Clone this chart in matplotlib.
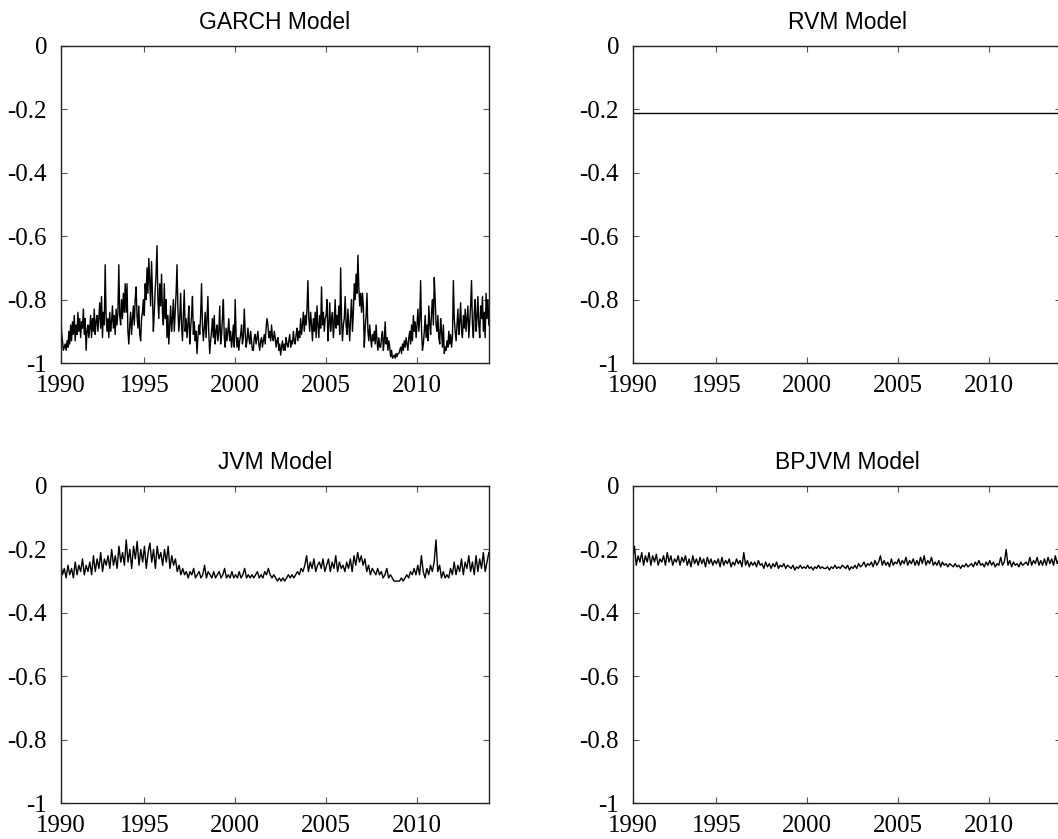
import numpy as np
import matplotlib
matplotlib.use("Agg")
import matplotlib.pyplot as plt

# ===== data =====
START, END = 1990.4, 2013.95

# GARCH, ~20 samples per year
garch = [
    -0.80, -0.90, -0.93, -0.96, -0.95, -0.94, -0.96, -0.93, -0.95, -0.90, -0.94, -0.88,
    -0.93, -0.87, -0.91, -0.85, -0.93, -0.88, -0.91, -0.84, -0.90, -0.86, -0.92, -0.87, -0.89, -0.83, -0.91, -0.86, -0.96, -0.90, -0.88, -0.92,
    -0.89, -0.85, -0.92, -0.86, -0.90, -0.83, -0.91, -0.87, -0.85, -0.90, -0.86, -0.81, -0.89, -0.79, -0.92, -0.84, -0.88, -0.69, -0.85, -0.90,
    -0.86, -0.92, -0.84, -0.90, -0.87, -0.82, -0.89, -0.85, -0.91, -0.83, -0.88, -0.84, -0.69, -0.85, -0.88, -0.80, -0.86, -0.78, -0.84, -0.75,
    -0.84, -0.75, -0.90, -0.94, -0.88, -0.84, -0.91, -0.86, -0.82, -0.88, -0.80, -0.76, -0.85, -0.89, -0.82, -0.91, -0.93, -0.86, -0.84, -0.80,
    -0.85, -0.75, -0.80, -0.70, -0.78, -0.67, -0.74, -0.82, -0.68, -0.78, -0.90, -0.84, -0.77, -0.72, -0.63, -0.80, -0.86, -0.75, -0.82, -0.72,
    -0.84, -0.88, -0.75, -0.86, -0.80, -0.92, -0.85, -0.94, -0.88, -0.82, -0.90, -0.86, -0.80, -0.90, -0.84, -0.78, -0.69, -0.83, -0.90, -0.86,
    -0.78, -0.88, -0.93, -0.85, -0.77, -0.90, -0.86, -0.92, -0.88, -0.82, -0.94, -0.89, -0.85, -0.79, -0.91, -0.87, -0.93, -0.90, -0.97, -0.92,
    -0.88, -0.91, -0.85, -0.75, -0.88, -0.93, -0.89, -0.84, -0.92, -0.86, -0.79, -0.91, -0.97, -0.93, -0.90, -0.86, -0.92, -0.85, -0.94, -0.90,
    -0.88, -0.93, -0.90, -0.82, -0.94, -0.91, -0.86, -0.80, -0.92, -0.95, -0.89, -0.93, -0.90, -0.86, -0.93, -0.90, -0.95, -0.92, -0.88, -0.95,
    -0.80, -0.91, -0.95, -0.92, -0.96, -0.93, -0.91, -0.88, -0.94, -0.92, -0.83, -0.90, -0.95, -0.93, -0.89, -0.92, -0.94, -0.90, -0.93, -0.96,
    -0.96, -0.92, -0.91, -0.94, -0.92, -0.90, -0.94, -0.96, -0.93, -0.92, -0.95, -0.93, -0.91, -0.94, -0.89, -0.86, -0.88, -0.92, -0.90, -0.93,
    -0.88, -0.92, -0.93, -0.90, -0.92, -0.95, -0.93, -0.92, -0.96, -0.94, -0.975, -0.95, -0.93, -0.96, -0.94, -0.96, -0.92, -0.94, -0.95, -0.93,
    -0.91, -0.95, -0.93, -0.94, -0.90, -0.93, -0.94, -0.91, -0.89, -0.93, -0.90, -0.92, -0.86, -0.91, -0.88, -0.84, -0.90, -0.85, -0.88, -0.83,
    -0.74, -0.86, -0.90, -0.84, -0.88, -0.93, -0.86, -0.90, -0.84, -0.92, -0.82, -0.88, -0.92, -0.85, -0.89, -0.76, -0.88, -0.84, -0.90, -0.86,
    -0.85, -0.80, -0.93, -0.88, -0.81, -0.90, -0.86, -0.84, -0.92, -0.87, -0.80, -0.89, -0.85, -0.88, -0.82, -0.91, -0.70, -0.86, -0.93, -0.88,
    -0.86, -0.79, -0.88, -0.91, -0.83, -0.88, -0.93, -0.85, -0.80, -0.90, -0.84, -0.75, -0.80, -0.72, -0.78, -0.66, -0.76, -0.82, -0.78, -0.84,
    -0.78, -0.82, -0.95, -0.89, -0.85, -0.78, -0.90, -0.93, -0.88, -0.92, -0.95, -0.91, -0.93, -0.90, -0.94, -0.88, -0.93, -0.96, -0.92, -0.95,
    -0.95, -0.92, -0.90, -0.96, -0.93, -0.87, -0.94, -0.92, -0.96, -0.93, -0.95, -0.98, -0.96, -0.985, -0.98, -0.975, -0.985, -0.97, -0.98, -0.97,
    -0.97, -0.96, -0.95, -0.97, -0.94, -0.96, -0.93, -0.95, -0.92, -0.94, -0.96, -0.92, -0.90, -0.94, -0.88, -0.93, -0.85, -0.90, -0.87, -0.92,
    -0.88, -0.83, -0.90, -0.86, -0.74, -0.90, -0.96, -0.94, -0.90, -0.85, -0.92, -0.88, -0.93, -0.82, -0.88, -0.91, -0.84, -0.80, -0.88, -0.73,
    -0.80, -0.88, -0.90, -0.85, -0.92, -0.94, -0.86, -0.90, -0.95, -0.88, -0.97, -0.95, -0.96, -0.93, -0.95, -0.90, -0.94, -0.91, -0.95, -0.92,
    -0.74, -0.86, -0.90, -0.93, -0.88, -0.83, -0.91, -0.87, -0.81, -0.90, -0.92, -0.85, -0.89, -0.83, -0.90, -0.86, -0.82, -0.92, -0.87, -0.82,
    -0.74, -0.88, -0.92, -0.84, -0.80, -0.90, -0.86, -0.79, -0.88, -0.92, -0.82, -0.86, -0.79, -0.90, -0.84, -0.92, -0.78, -0.86, -0.80, -0.88,
]

# RVM is flat
rvm = [-0.212, -0.212]

# JVM, ~10 samples per year
jvm = [
    -0.24, -0.28, -0.26, -0.29, -0.25, -0.28,
    -0.26, -0.29, -0.24, -0.28, -0.25, -0.27, -0.23, -0.28, -0.25, -0.27,
    -0.24, -0.28, -0.22, -0.27, -0.23, -0.26, -0.21, -0.27, -0.23, -0.25,
    -0.22, -0.26, -0.20, -0.25, -0.22, -0.26, -0.19, -0.24, -0.21, -0.25,
    -0.17, -0.24, -0.20, -0.26, -0.19, -0.23, -0.175, -0.25, -0.20, -0.24,
    -0.19, -0.26, -0.21, -0.18, -0.24, -0.20, -0.26, -0.19, -0.23, -0.21,
    -0.25, -0.20, -0.24, -0.19, -0.26, -0.22, -0.25, -0.23, -0.27, -0.25,
    -0.28, -0.26, -0.28, -0.27, -0.29, -0.27, -0.28, -0.26, -0.29, -0.28,
    -0.27, -0.29, -0.28, -0.25, -0.29, -0.27, -0.28, -0.29, -0.27, -0.29,
    -0.28, -0.27, -0.29, -0.28, -0.26, -0.29, -0.28, -0.29, -0.27, -0.29,
    -0.28, -0.29, -0.27, -0.29, -0.28, -0.26, -0.29, -0.28, -0.29, -0.28,
    -0.29, -0.28, -0.27, -0.29, -0.28, -0.29, -0.27, -0.28, -0.26, -0.28,
    -0.29, -0.28, -0.29, -0.30, -0.29, -0.30, -0.29, -0.30, -0.29, -0.28,
    -0.29, -0.28, -0.29, -0.28, -0.27, -0.28, -0.26, -0.27, -0.25, -0.22,
    -0.27, -0.24, -0.26, -0.23, -0.27, -0.25, -0.24, -0.26, -0.23, -0.27,
    -0.25, -0.23, -0.27, -0.24, -0.26, -0.22, -0.27, -0.24, -0.26, -0.25,
    -0.27, -0.24, -0.26, -0.23, -0.27, -0.22, -0.25, -0.21, -0.24, -0.22,
    -0.25, -0.23, -0.27, -0.25, -0.28, -0.26, -0.27, -0.28, -0.26, -0.28,
    -0.27, -0.29, -0.28, -0.26, -0.29, -0.28, -0.29, -0.30, -0.30, -0.30,
    -0.30, -0.29, -0.30, -0.29, -0.28, -0.29, -0.27, -0.28, -0.26, -0.28,
    -0.25, -0.28, -0.22, -0.27, -0.29, -0.26, -0.28, -0.25, -0.27, -0.24,
    -0.17, -0.27, -0.25, -0.29, -0.27, -0.29, -0.28, -0.29, -0.26, -0.28,
    -0.24, -0.28, -0.25, -0.27, -0.23, -0.28, -0.24, -0.26, -0.22, -0.27,
    -0.24, -0.28, -0.22, -0.27, -0.23, -0.26, -0.21, -0.27, -0.24, -0.21,
]

# BPJVM, ~10 samples per year
bpjvm = [
    -0.23, -0.19, -0.25, -0.22, -0.24, -0.21,
    -0.25, -0.22, -0.24, -0.21, -0.25, -0.22, -0.24, -0.215, -0.25, -0.23,
    -0.24, -0.22, -0.25, -0.21, -0.24, -0.22, -0.25, -0.23, -0.24, -0.22,
    -0.25, -0.225, -0.24, -0.22, -0.25, -0.23, -0.255, -0.22, -0.245, -0.23,
    -0.25, -0.225, -0.245, -0.23, -0.255, -0.225, -0.245, -0.23, -0.25, -0.235,
    -0.245, -0.23, -0.255, -0.225, -0.25, -0.235, -0.245, -0.23, -0.255, -0.24,
    -0.25, -0.23, -0.245, -0.235, -0.255, -0.21, -0.25, -0.235, -0.255, -0.24,
    -0.25, -0.24, -0.255, -0.235, -0.25, -0.245, -0.26, -0.24, -0.255, -0.245,
    -0.26, -0.245, -0.255, -0.24, -0.26, -0.25, -0.255, -0.245, -0.26, -0.25,
    -0.255, -0.26, -0.25, -0.265, -0.255, -0.26, -0.25, -0.26, -0.255, -0.26,
    -0.25, -0.26, -0.255, -0.265, -0.255, -0.26, -0.25, -0.26, -0.255, -0.26,
    -0.26, -0.255, -0.265, -0.255, -0.26, -0.25, -0.26, -0.255, -0.26, -0.25,
    -0.255, -0.26, -0.25, -0.265, -0.255, -0.26, -0.25, -0.26, -0.245, -0.255,
    -0.25, -0.24, -0.255, -0.245, -0.25, -0.24, -0.255, -0.235, -0.25, -0.24,
    -0.22, -0.25, -0.235, -0.25, -0.24, -0.255, -0.23, -0.25, -0.24, -0.245,
    -0.23, -0.25, -0.235, -0.245, -0.225, -0.25, -0.235, -0.245, -0.23, -0.25,
    -0.235, -0.25, -0.225, -0.245, -0.22, -0.25, -0.235, -0.245, -0.225, -0.25,
    -0.24, -0.25, -0.235, -0.255, -0.24, -0.25, -0.245, -0.255, -0.245, -0.25,
    -0.255, -0.245, -0.255, -0.25, -0.26, -0.25, -0.255, -0.245, -0.255, -0.25,
    -0.245, -0.255, -0.24, -0.25, -0.235, -0.25, -0.245, -0.255, -0.24, -0.25,
    -0.235, -0.25, -0.24, -0.255, -0.245, -0.25, -0.225, -0.25, -0.24, -0.20,
    -0.25, -0.235, -0.255, -0.24, -0.25, -0.245, -0.255, -0.24, -0.25, -0.245,
    -0.24, -0.25, -0.225, -0.25, -0.235, -0.245, -0.225, -0.25, -0.235, -0.25,
    -0.23, -0.25, -0.225, -0.245, -0.23, -0.25, -0.22, -0.245, -0.23, -0.25,
]

titles = ["GARCH Model", "RVM Model", "JVM Model", "BPJVM Model"]
xticks = [1990, 1995, 2000, 2005, 2010]
yticks = [0, -0.2, -0.4, -0.6, -0.8, -1]
yticklabels = ["0", "-0.2", "-0.4", "-0.6", "-0.8", "-1"]

series = [garch, rvm, jvm, bpjvm]

# ===== plot =====
fig = plt.figure(figsize=(10.58, 8.39), dpi=100)
W, H = 428 / 1058, 317 / 839
positions = [
    (61 / 1058, 1 - 363 / 839),
    (633 / 1058, 1 - 363 / 839),
    (61 / 1058, 1 - 803 / 839),
    (633 / 1058, 1 - 803 / 839),
]

xlim = (1990.42, 2013.96)
for (x0, y0), title, y in zip(positions, titles, series):
    ax = fig.add_axes([x0, y0, W, H])
    t = np.linspace(START, END, len(y))
    ax.plot(t, y, color="black", lw=1.0)
    ax.set_xlim(*xlim)
    ax.set_ylim(-1, 0)
    # first tick sits on the left edge, labelled 1990
    ax.set_xticks([xlim[0]] + xticks[1:])
    ax.set_xticklabels([str(v) for v in xticks], family="Liberation Serif", fontsize=18)
    ax.set_yticks(yticks)
    ax.set_yticklabels(yticklabels, family="Liberation Serif", fontsize=18)
    ax.tick_params(direction="in", length=4, width=0.8, top=True, right=True,
                   color="#555555")
    ax.tick_params(axis="x", pad=9)
    ax.tick_params(axis="y", pad=10)
    for s in ax.spines.values():
        s.set_linewidth(1.0)
        s.set_color("#222222")
    ax.set_title(title, family="Liberation Sans", fontsize=16.5, pad=12)

fig.savefig("out.png", dpi=100)
plt.close(fig)
